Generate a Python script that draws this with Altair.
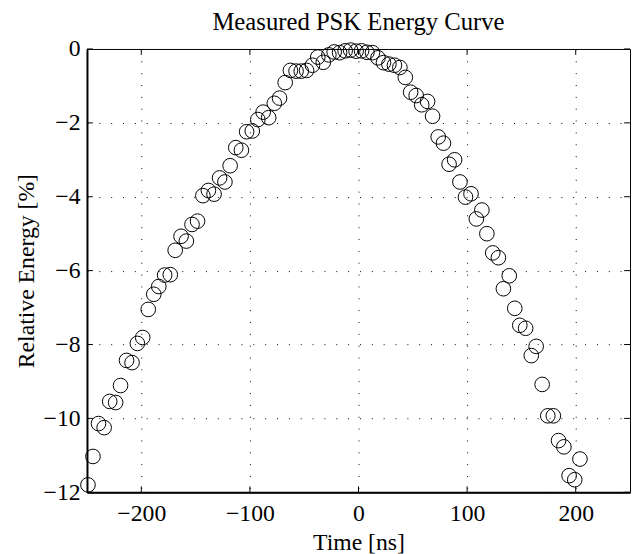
import altair as alt
import pandas as pd

time_ns = [
    -249.1, -244.5, -239.4, -234.2, -229.1, -223.6, -219.1, -213.6, -208.5, -203.6,
    -198.7, -193.6, -188.5, -183.9, -178.5, -173.3, -168.8, -163.4, -158.5, -153.3,
    -148.2, -143.3, -138.2, -133.0, -127.9, -123.0, -118.2, -113.0, -107.8, -103.0,
    -97.8, -92.7, -87.8, -82.7, -77.5, -72.7, -67.5, -62.7, -57.5, -52.7,
    -47.8, -42.4, -37.5, -32.4, -27.3, -22.4, -17.4, -12.3, -7.3, -2.2,
    2.8, 7.8, 12.9, 17.9, 23.0, 28.0, 33.1, 38.1, 43.1, 48.0,
    53.1, 58.2, 63.6, 68.2, 73.4, 78.2, 83.4, 88.5, 93.4, 98.5,
    103.6, 108.5, 113.6, 118.2, 123.6, 128.8, 133.4, 138.8, 143.9, 148.5,
    153.9, 159.1, 163.6, 169.1, 174.3, 179.4, 184.2, 189.1, 193.9, 199.1,
    203.9,
]
energy_pct = [
    -11.80, -11.03, -10.14, -10.25, -9.54, -9.57, -9.11, -8.43, -8.49, -7.97,
    -7.81, -7.05, -6.64, -6.43, -6.12, -6.11, -5.45, -5.07, -5.20, -4.75,
    -4.66, -3.97, -3.83, -3.93, -3.49, -3.60, -3.16, -2.67, -2.74, -2.24,
    -2.22, -1.91, -1.71, -1.86, -1.47, -1.33, -0.91, -0.58, -0.60, -0.60,
    -0.58, -0.44, -0.22, -0.36, -0.16, -0.08, -0.10, -0.05, -0.03, -0.06,
    -0.05, -0.09, -0.10, -0.24, -0.37, -0.41, -0.44, -0.50, -0.77, -1.17,
    -1.26, -1.51, -1.42, -1.82, -2.38, -2.55, -3.12, -3.00, -3.60, -4.01,
    -3.92, -4.60, -4.36, -5.00, -5.52, -5.65, -6.49, -6.14, -7.02, -7.48,
    -7.56, -8.30, -8.05, -9.08, -9.93, -9.93, -10.60, -10.77, -11.55, -11.66,
    -11.10,
]
x_ticks = [-200, -100, 0, 100, 200]
y_ticks = [-12, -10, -8, -6, -4, -2, 0]

W, H = 550, 449
TICK = 6
FONT = "Liberation Serif"
FS = 24

df = pd.DataFrame({"x": time_ns, "y": energy_pct})
xt = pd.DataFrame({"x": x_ticks})
yt = pd.DataFrame({"y": y_ticks})

xscale = alt.Scale(domain=[-250, 250], nice=False, zero=False)
yscale = alt.Scale(domain=[-12, 0], nice=False, zero=False)

points = alt.Chart(df).mark_point(
    shape="circle", filled=False, size=220, strokeWidth=1, color="black",
    opacity=1, clip=False,
).encode(
    x=alt.X("x:Q", scale=xscale,
            axis=alt.Axis(values=x_ticks, title="Time [ns]", labelPadding=10,
                          titlePadding=5, labelFlush=False, labelOverlap=False)),
    y=alt.Y("y:Q", scale=yscale,
            axis=alt.Axis(values=y_ticks, title="Relative Energy [%]", labelPadding=7,
                          titlePadding=5, labelFlush=False, labelOverlap=False)),
)

rule = dict(color="black", strokeWidth=1)
bottom_ticks = alt.Chart(xt).mark_rule(**rule).encode(
    x=alt.X("x:Q", scale=xscale), y=alt.value(H), y2=alt.value(H - TICK))
top_ticks = alt.Chart(xt).mark_rule(**rule).encode(
    x=alt.X("x:Q", scale=xscale), y=alt.value(0), y2=alt.value(TICK))
left_ticks = alt.Chart(yt).mark_rule(**rule).encode(
    y=alt.Y("y:Q", scale=yscale), x=alt.value(0), x2=alt.value(TICK))
right_ticks = alt.Chart(yt).mark_rule(**rule).encode(
    y=alt.Y("y:Q", scale=yscale), x=alt.value(W), x2=alt.value(W - TICK))

chart = alt.layer(
    bottom_ticks, top_ticks, left_ticks, right_ticks, points
).properties(
    width=W, height=H,
    background="white",
    title=alt.Title("Measured PSK Energy Curve", font=FONT, fontSize=25,
                    fontWeight="normal", color="black", offset=2, anchor="middle",
                    frame="group"),
    autosize=alt.AutoSizeParams(type="none"),
    padding={"left": 80, "top": 38, "right": 1, "bottom": 59},
).configure_view(
    stroke="black", strokeWidth=1
).configure_axis(
    domainColor="black", domainWidth=2, ticks=False,
    grid=True, gridColor="black", gridOpacity=1, gridWidth=1, gridDash=[1, 11],
    labelFont=FONT, labelFontSize=FS, labelColor="black",
    titleFont=FONT, titleFontSize=FS, titleFontWeight="normal", titleColor="black",
)

chart.save("out.html", embed_options={"renderer": "svg", "actions": False})
